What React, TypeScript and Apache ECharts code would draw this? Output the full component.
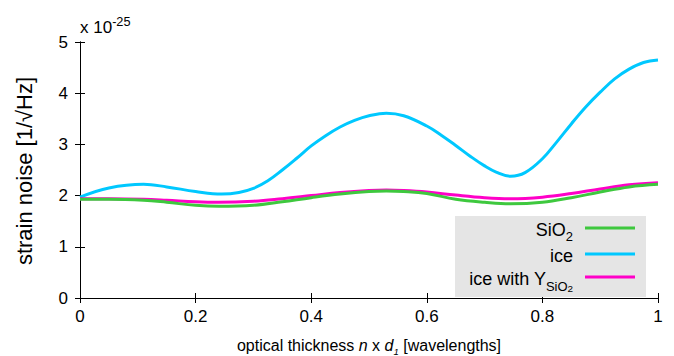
import React, { useEffect, useRef } from "react";
import * as echarts from "echarts";

// x positions (optical thickness) for the SiO2 and "ice with Y" curves
const xs = [0, 0.05, 0.11, 0.15, 0.2, 0.24, 0.3, 0.35, 0.4, 0.45, 0.5, 0.53, 0.56, 0.6, 0.65, 0.7, 0.745, 0.8, 0.85, 0.9, 0.95, 1.0];
const sio2 = [1.93, 1.93, 1.91, 1.87, 1.81, 1.79, 1.81, 1.88, 1.96, 2.03, 2.08, 2.09, 2.08, 2.04, 1.93, 1.87, 1.84, 1.87, 1.96, 2.07, 2.17, 2.22];
const iceY = [1.94, 1.94, 1.93, 1.91, 1.88, 1.87, 1.89, 1.94, 2.0, 2.06, 2.1, 2.11, 2.1, 2.07, 2.01, 1.96, 1.94, 1.97, 2.04, 2.13, 2.21, 2.25];

// x positions for the ice curve (denser where it moves fast)
const iceXs = [0, 0.05, 0.11, 0.15, 0.2, 0.245, 0.275, 0.3, 0.325, 0.35, 0.375, 0.4, 0.425, 0.45, 0.475, 0.5, 0.53, 0.56, 0.6, 0.625, 0.65, 0.675, 0.7, 0.72, 0.745, 0.77, 0.8, 0.825, 0.85, 0.875, 0.9, 0.925, 0.95, 0.975, 1.0];
const ice = [1.97, 2.15, 2.22, 2.17, 2.08, 2.03, 2.06, 2.14, 2.29, 2.5, 2.73, 2.97, 3.17, 3.34, 3.47, 3.56, 3.61, 3.56, 3.36, 3.18, 2.98, 2.77, 2.58, 2.46, 2.38, 2.45, 2.72, 3.05, 3.4, 3.73, 4.02, 4.28, 4.47, 4.6, 4.65];

const seriesNames = ["SiO2", "ice", "ice with Y_SiO2"];
const colors = ["#3ec83e", "#00c8ff", "#ff00c8"];

const FONT = "Liberation Sans, Arial, sans-serif";

export default function App() {
  const ref = useRef<HTMLDivElement>(null);
  useEffect(() => {
    if (!ref.current) return;
    const chart = echarts.init(ref.current, undefined, { renderer: "svg" });
    const pair = (xArr: number[], arr: number[]) => xArr.map((x, i) => [x, arr[i]]);
    const datas = [pair(xs, sio2), pair(iceXs, ice), pair(xs, iceY)];
    const mk = (size: number) => ({
      n: { fontSize: size, fontFamily: FONT, color: "#000" },
      sub: { fontSize: size * 0.72, fontFamily: FONT, color: "#000", verticalAlign: "bottom", padding: [size * 0.7, 0, 0, 0] },
      sub2: { fontSize: size * 0.55, fontFamily: FONT, color: "#000", verticalAlign: "bottom", padding: [size * 1.05, 0, 0, 0] },
      sup: { fontSize: size * 0.75, fontFamily: FONT, color: "#000", verticalAlign: "top", padding: [0, 0, size * 0.6, 0] },
      it: { fontSize: size, fontFamily: FONT, color: "#000", fontStyle: "italic" },
      subit: { fontSize: size * 0.6, fontFamily: FONT, color: "#000", fontStyle: "italic", verticalAlign: "bottom", padding: [size * 0.75, 0, 0, 0] },
    });
    const legendRich = mk(18);
    const titleRich = mk(16);
    const supRich = mk(17);
    const legendTexts = [
      "{n|SiO}{sub|2}",
      "{n|ice}",
      "{n|ice with Y}{sub|SiO}{sub2|2}",
    ];
    const legendY = [228, 254, 277];
    const axisCommon = {
      type: "value" as const,
      min: 0,
      axisLine: { show: true, lineStyle: { color: "#000", width: 1 } },
      axisTick: { show: true, inside: true, length: 5, lineStyle: { color: "#000" } },
      splitLine: { show: false },
    };
    chart.setOption({
      animation: false,
      grid: { left: 80, right: 16, top: 42, bottom: 58, containLabel: false },
      xAxis: [
        {
          ...axisCommon,
          max: 1,
          interval: 0.2,
          position: "bottom",
          axisLabel: { fontSize: 17, fontFamily: FONT, color: "#000", margin: 10 },
        },
        {
          ...axisCommon,
          max: 1,
          interval: 0.2,
          position: "top",
          axisLabel: { show: false },
        },
      ],
      yAxis: [
        {
          ...axisCommon,
          max: 5,
          interval: 1,
          position: "left",
          axisLabel: { fontSize: 17, fontFamily: FONT, color: "#000", margin: 12 },
        },
        {
          ...axisCommon,
          max: 5,
          interval: 1,
          position: "right",
          axisLabel: { show: false },
        },
      ],
      series: seriesNames.map((name, i) => ({
        name,
        type: "line",
        data: datas[i],
        smooth: 0.4,
        showSymbol: false,
        lineStyle: { color: colors[i], width: 3 },
        itemStyle: { color: colors[i] },
        z: i === 2 ? 3 : i === 0 ? 4 : 2,
      })),
      graphic: [
        {
          type: "text",
          x: 80,
          y: 27,
          style: { rich: supRich, text: "{n|x 10}{sup|-25}", verticalAlign: "middle" },
        },
        {
          type: "text",
          x: 24,
          y: 171,
          rotation: Math.PI / 2,
          style: {
            text: "strain noise [1/\u221AHz]",
            fontSize: 22,
            fontFamily: FONT,
            fill: "#000",
            align: "center",
            verticalAlign: "middle",
          },
        },
        {
          type: "text",
          x: 369,
          y: 345,
          style: {
            rich: titleRich,
            text: "{n|optical thickness }{it|n}{n| x }{it|d}{subit|1}{n| [wavelengths]}",
            align: "center",
            verticalAlign: "middle",
          },
        },
        {
          type: "rect",
          shape: { x: 455, y: 216, width: 191, height: 81 },
          style: { fill: "#e5e5e5" },
          z: 10,
        },
        ...legendTexts.map((t, i) => ({
          type: "text",
          x: 573,
          y: legendY[i] + 2,
          z: 11,
          style: { rich: legendRich, text: t, align: "right", verticalAlign: "middle" },
        })),
        ...colors.map((c, i) => ({
          type: "line",
          z: 11,
          shape: { x1: 585, y1: legendY[i], x2: 635, y2: legendY[i] },
          style: { stroke: c, lineWidth: 3 },
        })),
      ],
    });
    return () => chart.dispose();
  }, []);
  return <div ref={ref} style={{ width: 674, height: 356, position: "absolute", left: 0, top: 0 }} />;
}
